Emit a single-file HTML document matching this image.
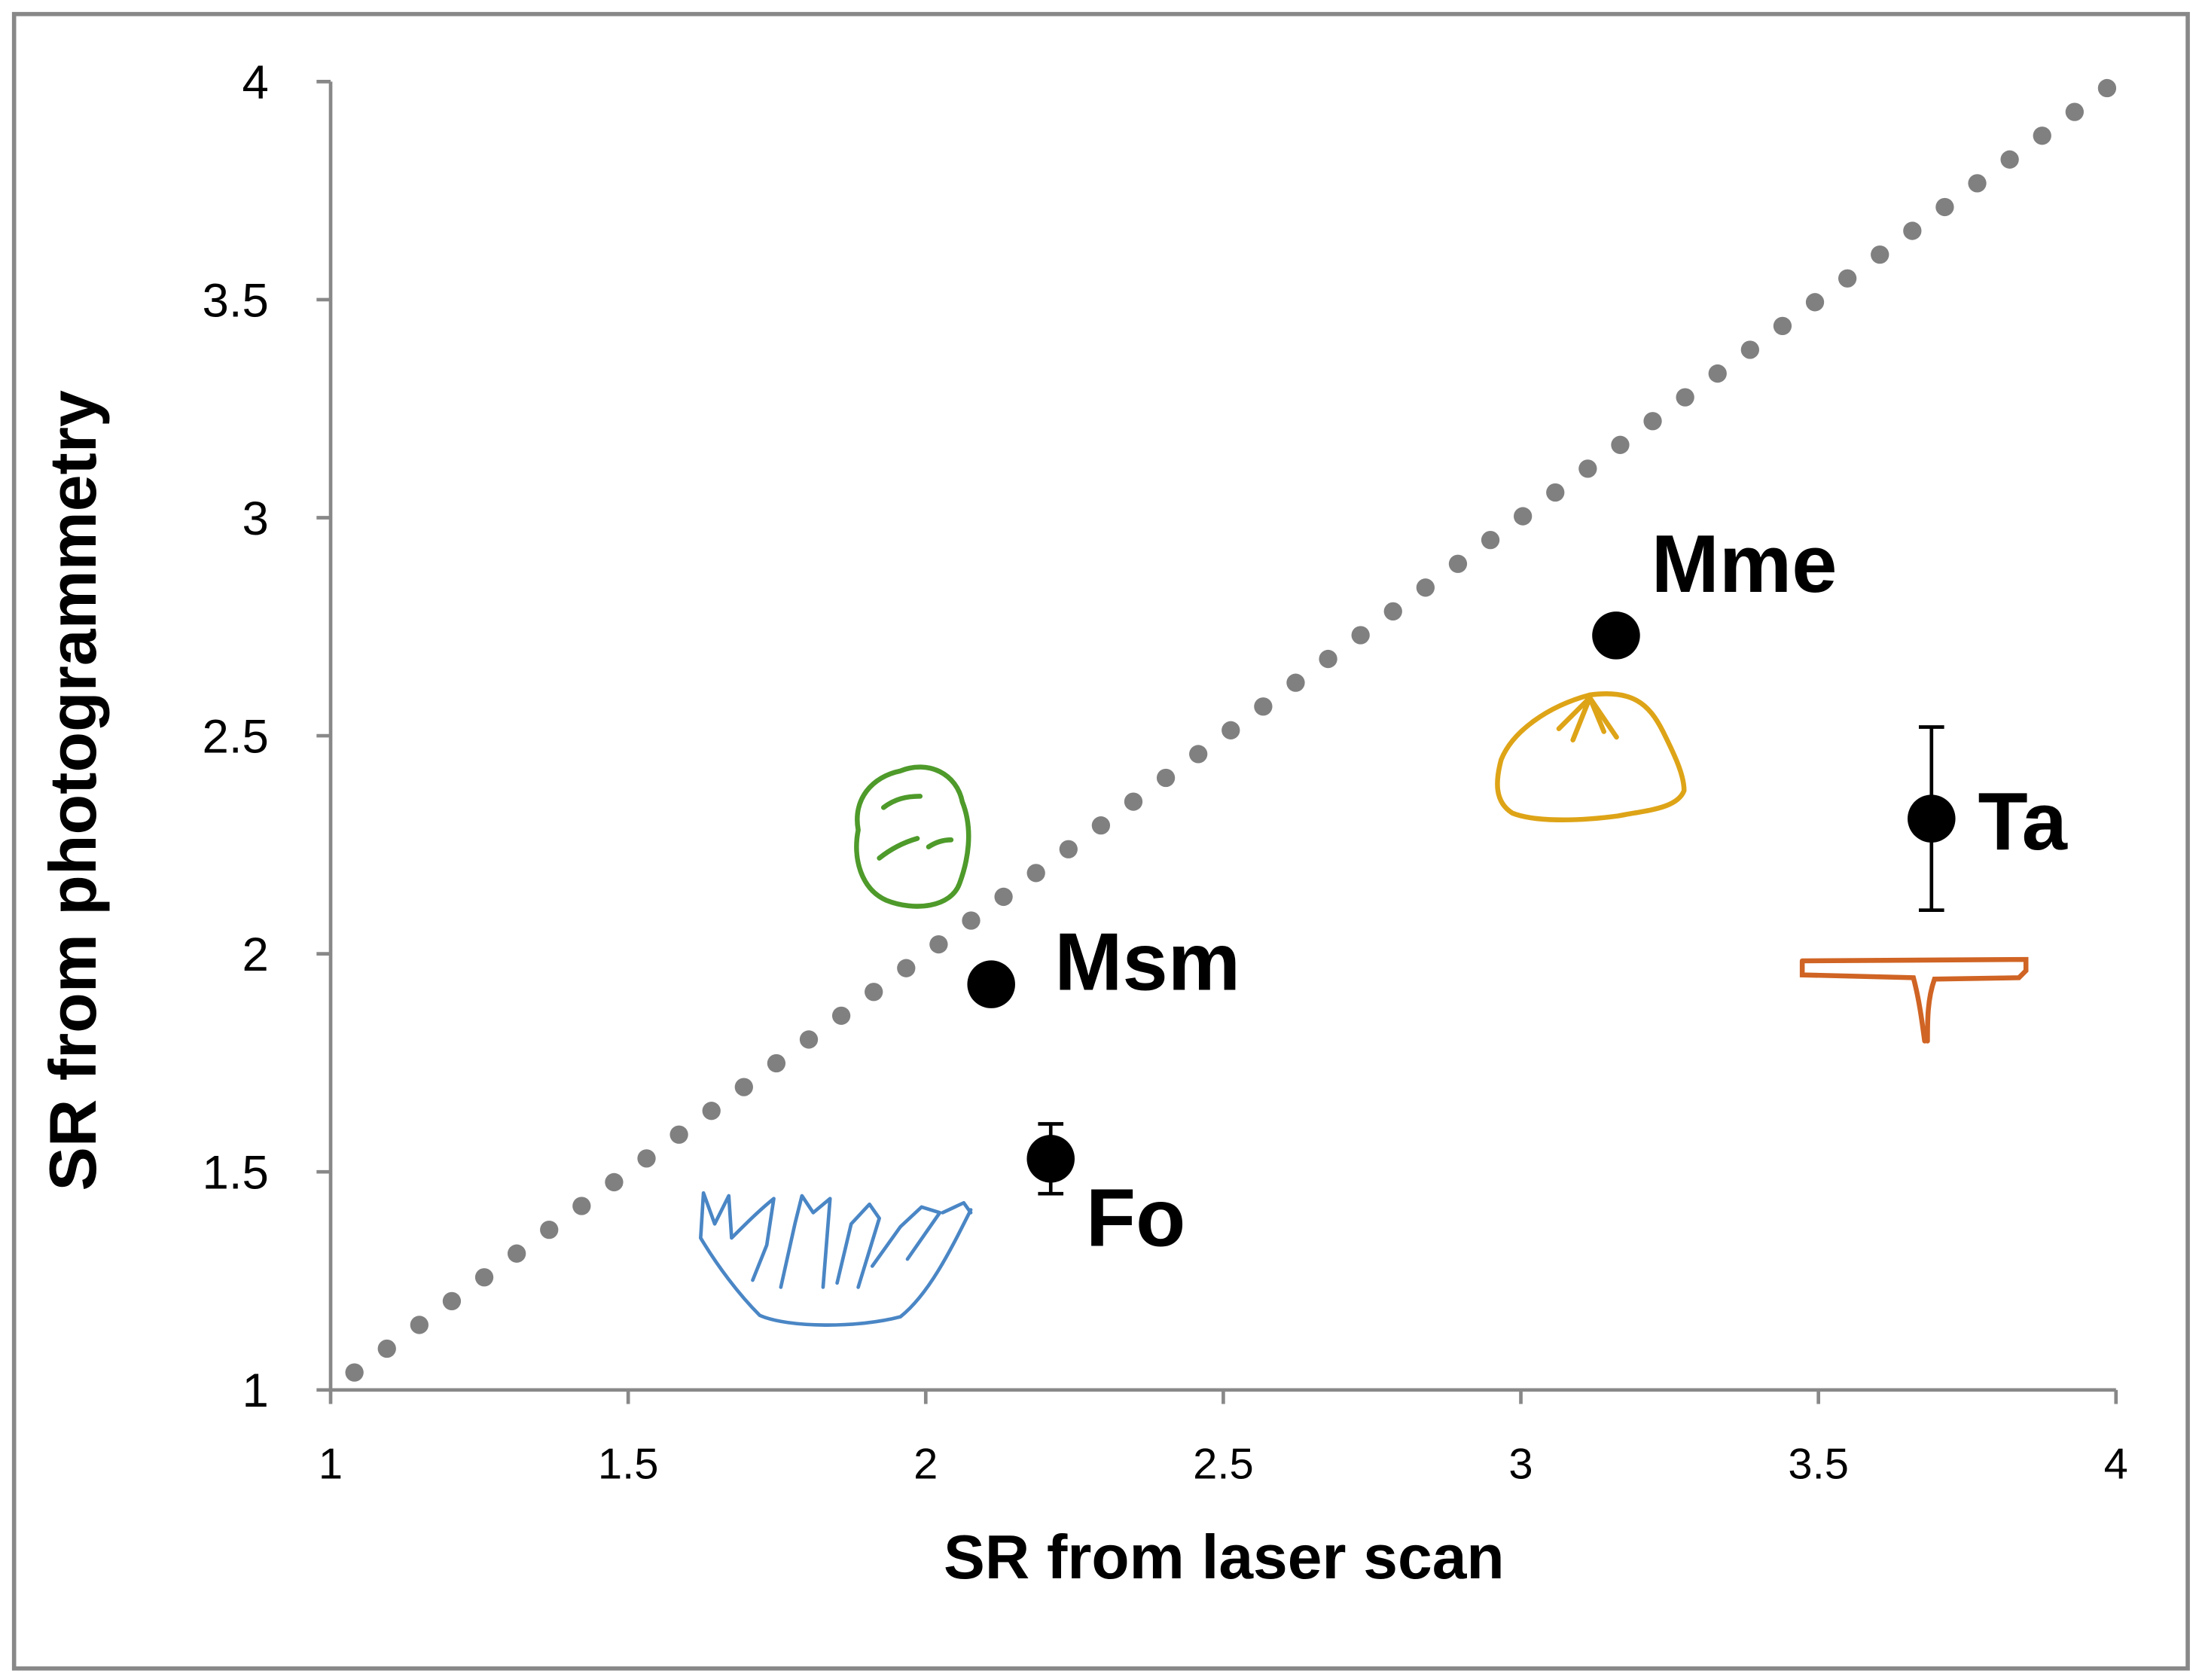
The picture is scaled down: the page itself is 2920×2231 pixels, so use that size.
<!DOCTYPE html>
<html><head><meta charset="utf-8"><style>
html,body{margin:0;padding:0;background:#fff;}
svg{display:block;}
text{font-family:"Liberation Sans","DejaVu Sans",sans-serif;}
</style></head><body>
<svg id="chart" width="2920" height="2231" viewBox="0 0 1563 1194.2" xmlns="http://www.w3.org/2000/svg">
<rect x="10" y="10" width="1545" height="1176" fill="#fff" stroke="#888" stroke-width="3"/>
<g id="axes"></g>
<g id="identity"></g>
<g id="icons">
 <path d="M640,548 C660,540 680,550 684,570 C692,590 688,612 682,628 C676,645 650,648 630,640 C612,632 606,610 610,590 C606,568 620,552 640,548 Z M628,574 C636,568 644,566 654,566 M625,610 C635,602 645,598 652,596 M660,602 C666,598 672,597 676,597" fill="none" stroke="#4e9a2a" stroke-width="3.5" stroke-linecap="round"/>
 <path d="M1130,494 C1160,490 1172,500 1182,520 C1192,540 1197,552 1197,562 C1192,575 1170,576 1150,580 C1120,584 1090,584 1075,578 C1062,570 1063,555 1067,540 C1075,520 1100,502 1130,494 Z M1130,496 L1118,526 M1130,496 L1140,520 M1130,496 L1108,518 M1130,496 L1149,524" fill="none" stroke="#dea417" stroke-width="3.5" stroke-linecap="round"/>
 <path d="M1281,683 L1440,682 L1440,690 L1435,695 L1375,696 C1370,710 1370,725 1370,740 M1281,683 L1281,693 L1360,695 C1364,710 1366,725 1368,740" fill="none" stroke="#d06424" stroke-width="3.5" stroke-linecap="round"/>
 <path d="M498,880 C510,900 525,920 540,935 C560,944 610,944 640,936 C660,920 675,890 690,860 M498,880 L500,848 L508,870 L518,850 L520,880 M520,880 C530,870 540,860 550,852 L545,885 L535,910 M555,915 L565,870 L570,850 L578,862 L590,852 L585,915 M595,912 L605,870 L618,856 L625,866 L610,915 M620,900 L640,872 L655,858 L668,862 L645,895 M670,862 L685,855 L690,862" fill="none" stroke="#4a86c5" stroke-width="2.5" stroke-linecap="round" stroke-linejoin="round"/>
</g>
<g id="points"></g>
<text x="870" y="1122" text-anchor="middle" font-size="44" font-weight="bold">SR from laser scan</text>
<text transform="translate(68,562) rotate(-90)" text-anchor="middle" font-size="47" font-weight="bold">SR from photogrammetry</text>
</svg>
<script>
const xTicks=[1,1.5,2,2.5,3,3.5,4];
const yTicks=[1,1.5,2,2.5,3,3.5,4];
const xTickLabels=["1","1.5","2","2.5","3","3.5","4"];
const yTickLabels=["1","1.5","2","2.5","3","3.5","4"];
const species=["Msm","Fo","Mme","Ta"];
const laserSR=[2.11,2.21,3.16,3.69];
const photoSR=[1.93,1.53,2.73,2.31];
const errLow=[null,1.45,null,2.10];
const errHigh=[null,1.61,null,2.52];
const labelDx=[45,25,25,33];
const labelDy=[-13,45,-48,5];
const NS="http://www.w3.org/2000/svg";
const X=v=>235+(v-1)*(1504-235)/3;
const Y=v=>988-(v-1)*(988-58)/3;
function mk(tag,attrs,parent){const e=document.createElementNS(NS,tag);for(const k in attrs)e.setAttribute(k,attrs[k]);parent.appendChild(e);return e;}
const axes=document.getElementById('axes');
let a=mk('line',{x1:X(1),y1:Y(1),x2:X(4),y2:Y(1),stroke:'#888','stroke-width':2.5},axes);


a=mk('line',{x1:X(1),y1:Y(1),x2:X(1),y2:Y(4),stroke:'#888','stroke-width':2.5},axes);


xTicks.forEach((v,i)=>{
 const t=mk('line',{x1:X(v),y1:Y(1),x2:X(v),y2:Y(1)+10,stroke:'#888','stroke-width':2.5},axes);
 
 
 const l=mk('text',{x:X(v),y:1051,'text-anchor':'middle','font-size':31},axes);
 l.textContent=xTickLabels[i];
 
 
});
yTicks.forEach((v,i)=>{
 const t=mk('line',{x1:X(1)-10,y1:Y(v),x2:X(1),y2:Y(v),stroke:'#888','stroke-width':2.5},axes);
 
 
 const l=mk('text',{x:191,y:Y(v)+12,'text-anchor':'end','font-size':34},axes);
 l.textContent=yTickLabels[i];
 
 
});
const idg=document.getElementById('identity');
const n=55;
for(let i=0;i<n;i++){
 const v=1.04+i*(3.985-1.04)/(n-1);
 const d=mk('circle',{cx:X(v),cy:Y(v),r:6.5,fill:'#808080'},idg);
 
 
}
const pg=document.getElementById('points');
species.forEach((s,i)=>{
 const cx=X(laserSR[i]),cy=Y(photoSR[i]);
 if(errLow[i]!==null){
  const e=mk('path',{d:`M${cx},${Y(errLow[i])}V${Y(errHigh[i])}M${cx-9},${Y(errLow[i])}H${cx+9}M${cx-9},${Y(errHigh[i])}H${cx+9}`,stroke:'#000','stroke-width':2.5,fill:'none'},pg);
  
  
 }
 const c=mk('circle',{cx:cx,cy:cy,r:17,fill:'#000'},pg);
 
 
 const t=mk('text',{x:cx+labelDx[i],y:cy+labelDy[i]+17,'font-size':58,'font-weight':'bold'},pg);
 t.textContent=s;
 
 
});
</script>
</body></html>
